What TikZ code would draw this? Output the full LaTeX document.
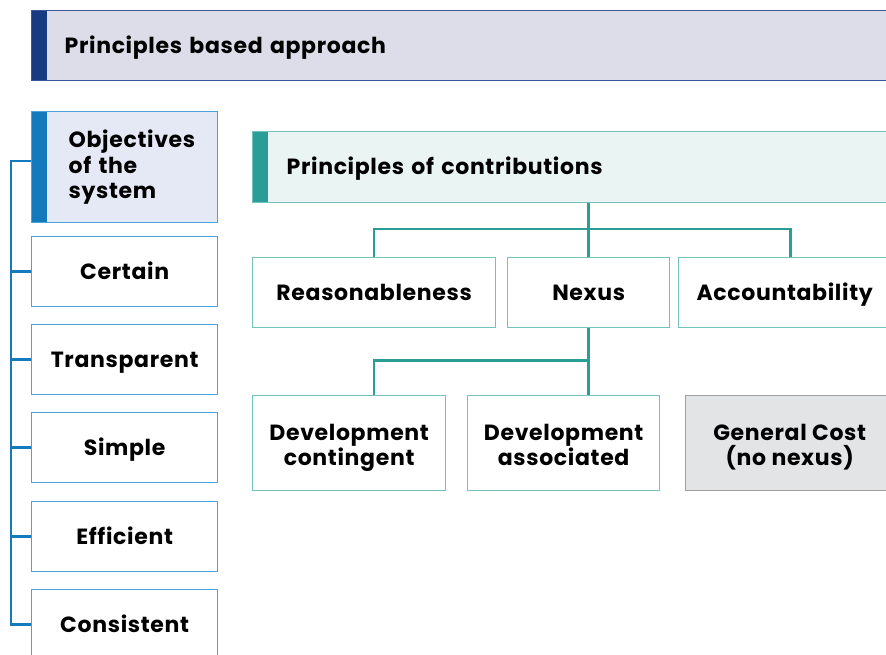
\documentclass[tikz,border=0pt]{standalone}
\usepackage{fontspec}
\setmainfont{Poppins}[LetterSpace=3]
\usepackage{tikz}
\usetikzlibrary{calc,positioning}
\definecolor{navy}{HTML}{173A80}
\definecolor{navyline}{HTML}{3A5597}
\definecolor{lav}{HTML}{DCDDE9}
\definecolor{objblue}{HTML}{1479BD}
\definecolor{objfill}{HTML}{E5E9F5}
\definecolor{skyline}{HTML}{4AA3D8}
\definecolor{teal}{HTML}{2A9D96}
\definecolor{tealline}{HTML}{72C3BD}
\definecolor{tealfill}{HTML}{EAF5F3}
\definecolor{greyfill}{HTML}{E3E4E6}
\definecolor{greyline}{HTML}{A0A0A0}

\begin{document}
\begin{tikzpicture}[x=1pt, y=-1pt]
\tikzstyle{box}=[draw, anchor=north west, inner sep=0pt, line width=1.3pt,
                 font=\bfseries\fontsize{22}{25.5}\selectfont, align=center]
\tikzstyle{one}=[text height=17, text depth=2]
\tikzstyle{two}=[text height=47.5, text depth=2.5]
\tikzstyle{bar}=[path picture={\fill[#1] (path picture bounding box.north west)
                 rectangle ([xshift=15pt]path picture bounding box.south west);}]
\tikzstyle{sbox}=[box, one, draw=skyline, minimum width=186, minimum height=70]
\tikzstyle{tbox}=[box, one, draw=tealline, minimum height=70]
\tikzstyle{lbox}=[box, two, draw=tealline, minimum height=95]
\useasboundingbox (0,0) rectangle (886,655);
\clip (0,0) rectangle (886,655);
% left column
\node[box, one, draw=navyline, fill=lav, bar=navy, minimum height=70,
      text width=804, inner xsep=33, align=left] (T) at (31,10) {Principles based approach};
\node[box, draw=skyline, fill=objfill, bar=objblue, minimum height=111,
      text width=112, inner xsep=37, align=left] (O) at (31,111) {Objectives\\of the\\system};
\foreach \n/\t/\y in {cer/Certain/236, tra/Transparent/324, sim/Simple/412,
                      eff/Efficient/501, con/Consistent/589}{\node[sbox] (\n) at (31,\y) {\t};}
% right part
\node[box, one, draw=tealline, fill=tealfill, bar=teal, minimum height=71,
      text width=570, inner xsep=34, align=left] (P) at (252,131) {Principles of contributions};
\node[tbox, minimum width=243] (R) at (252,257) {Reasonableness};
\node[tbox, minimum width=162] (N) at (507,257) {Nexus};
\node[tbox, minimum width=212] (A) at (678,257) {Accountability};
\node[lbox, minimum width=193] (DC) at (252,395) {Development\\contingent};
\node[lbox, minimum width=192] (DA) at (467,395) {Development\\associated};
\node[lbox, draw=greyline, fill=greyfill, minimum width=208] (G) at (685,395) {General Cost\\(no nexus)};
% connectors
\coordinate (k) at ($(O.west)+(-20,-6)$);
\draw[objblue, line width=2.5pt] (O.west |- k) -- (k) |- (con.west);
\foreach \n in {cer,tra,sim,eff}{\draw[objblue, line width=2.5pt] (\n.west) -- (\n.west -| k);}
\begin{scope}[teal, line width=2.5pt]
\draw (P.south -| N.north) -- (N.north);
\draw (R.north) -- ++(0,-28) -| ([xshift=6pt]A.north);
\draw (N.south) -- (N.south |- DA.north);
\draw (N.south) ++(0,32) -| (DC.north -| R.south);
\end{scope}
\end{tikzpicture}
\end{document}
